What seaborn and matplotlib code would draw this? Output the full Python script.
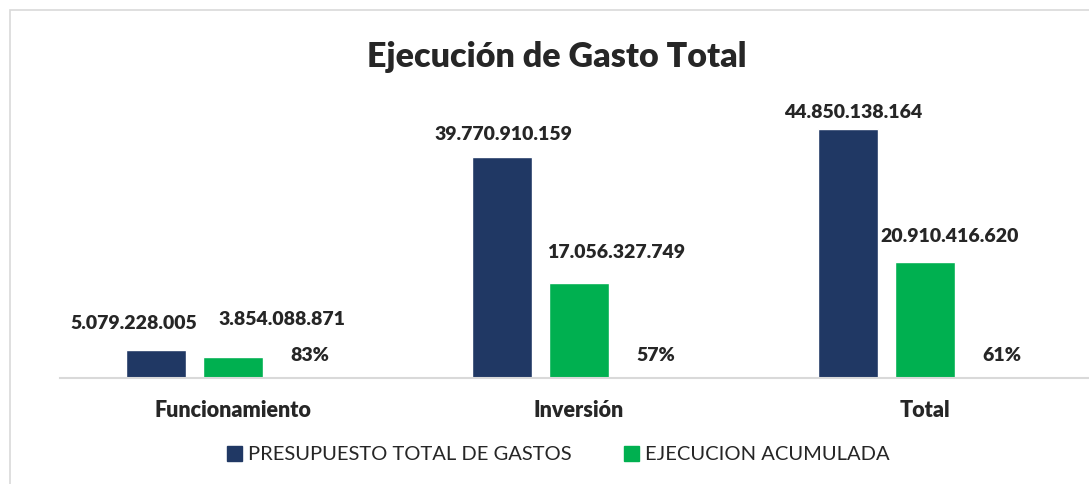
import pandas as pd
import seaborn as sns
import matplotlib.pyplot as plt
from matplotlib.patches import Rectangle

# datos del gráfico
categorias = ["Funcionamiento", "Inversión", "Total"]
presupuesto = [5079228005, 39770910159, 44850138164]
ejecucion = [3854088871, 17056327749, 20910416620]
porcentaje = [83, 57, 61]
series = ["PRESUPUESTO TOTAL DE GASTOS", "EJECUCION ACUMULADA", "PORCENTAJE"]

colores = ["#203864", "#00B050", "#FFFFFF"]

df = pd.DataFrame({
    "categoria": categorias * 3,
    "serie": [series[0]] * 3 + [series[1]] * 3 + [series[2]] * 3,
    "valor": presupuesto + ejecucion + [0] * 3,
})

sns.set_style("white")
plt.rcParams['font.family'] = ['Lato', 'DejaVu Sans']

fig = plt.figure(figsize=(10.89, 4.84), dpi=100)
ax = fig.add_axes([60 / 1089, 106 / 484, 1029 / 1089, 278 / 484])

sns.barplot(data=df, x="categoria", y="valor", hue="serie", palette=colores,
            width=0.6675, gap=0.21, ax=ax, legend=False, saturation=1)

ax.set_xlim(-0.5, 2.474)
ax.set_ylim(0, 50.07e9)
ax.set_xlabel("")
ax.set_ylabel("")
ax.set_yticks([])
ax.tick_params(axis="x", length=0, pad=16)
for lbl in ax.get_xticklabels():
    lbl.set_fontweight("heavy")
    lbl.set_fontsize(15.5)
for s in ["top", "right", "left"]:
    ax.spines[s].set_visible(False)
ax.spines["bottom"].set_color("#d9d9d9")
ax.spines["bottom"].set_linewidth(1.5)


def fmt(v):
    return f"{v:,}".replace(",", ".")


# desplazamiento de cada etiqueta (puntos), ajustado a mano como en Excel
desplaz = {
    (0, 0): (-16, 18.7), (0, 1): (35, 26.6), (0, 2): (0, 16.5),
    (1, 0): (1, 16.6), (1, 1): (27, 22.3), (1, 2): (0, 16.5),
    (2, 0): (3.5, 12.0), (2, 1): (18, 18.0), (2, 2): (0, 16.5),
}
for i, cont in enumerate(ax.containers):
    for j, bar in enumerate(cont):
        x = bar.get_x() + bar.get_width() / 2
        h = bar.get_height()
        if i == 2:
            txt = f"{porcentaje[j]}%"
        else:
            txt = fmt(presupuesto[j] if i == 0 else ejecucion[j])
        dx, dy = desplaz[(j, i)]
        ax.annotate(txt, (x, h), xytext=(dx, dy), textcoords="offset points",
                    ha="center", va="center", fontsize=14, fontweight="heavy")

fig.text(0.511, 0.882, "Ejecución de Gasto Total", ha="center", va="center",
         fontsize=24.5, fontweight="heavy")

handles = [Rectangle((0, 0), 1, 1, color=colores[0]),
           Rectangle((0, 0), 1, 1, color=colores[1])]
fig.legend(handles, series[:2], loc="center", bbox_to_anchor=(0.513, 0.061),
           ncol=2, frameon=False, fontsize=14.5, handlelength=0.75, handleheight=0.75,
           handletextpad=0.3, columnspacing=2.6)

# marco del gráfico
fig.patches.append(Rectangle((10 / 1089, -0.1), 1.2, 0.1 + 474 / 484,
                             transform=fig.transFigure, fill=False,
                             edgecolor="#d9d9d9", linewidth=1.2))

fig.savefig("out.png", dpi=100)
